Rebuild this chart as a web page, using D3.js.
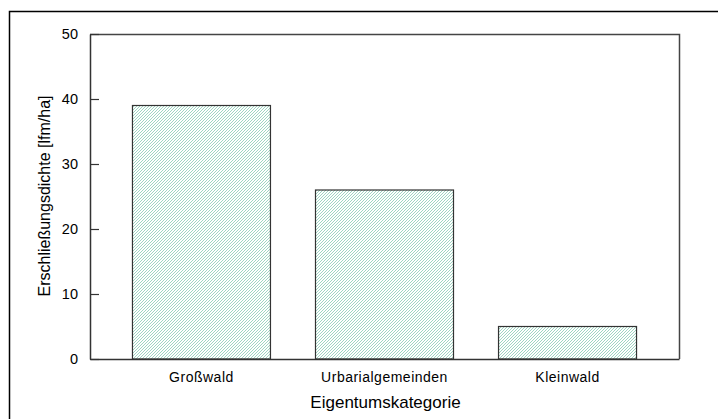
<!DOCTYPE html>
<html><head><meta charset="utf-8">
<script src="https://cdn.jsdelivr.net/npm/d3@7"></script>
<style>body{margin:0;background:#fff}svg{display:block}</style>
</head><body>
<script>
const categories = ["Großwald", "Urbarialgemeinden", "Kleinwald"];
const values = [39, 26, 5];
const yTicks = [0, 10, 20, 30, 40, 50];
const xTitle = "Eigentumskategorie";
const yTitle = "Erschließungsdichte [lfm/ha]";

const W = 718, H = 419;
const svg = d3.select("body").append("svg").attr("width", W).attr("height", H);
const font = "Arial, 'Liberation Sans', sans-serif";

const defs = svg.append("defs");
const pat = defs.append("pattern").attr("id", "hatch").attr("patternUnits", "userSpaceOnUse")
  .attr("width", 3).attr("height", 3);
pat.append("rect").attr("width", 3).attr("height", 3).attr("fill", "#ffffff");
pat.append("path").attr("d", "M-1,1 l2,-2 M0,3 l3,-3 M2,4 l2,-2")
  .attr("stroke", "#9ed6c3").attr("stroke-width", 1);

// outer frame
svg.append("rect").attr("x", 9.5).attr("y", 11.5).attr("width", 720).attr("height", 420)
  .attr("fill", "none").attr("stroke", "#000").attr("stroke-width", 1.5);

const L = 90, R = 679, T = 34, B = 359;
const x = d3.scaleBand().domain(categories).range([L, R]).paddingInner(0.246).paddingOuter(0.232);
const y = d3.scaleLinear().domain([0, 50]).range([B, T]);

// plot frame top & right
svg.append("path").attr("d", `M${L},${T}.5 H${R}.5 V${B}`).attr("fill", "none")
  .attr("stroke", "#444").attr("stroke-width", 1.5);

// bars
svg.append("g").selectAll("rect").data(categories).join("rect")
  .attr("x", d => x(d)).attr("width", x.bandwidth())
  .attr("y", (d, i) => y(values[i])).attr("height", (d, i) => y(0) - y(values[i]))
  .attr("fill", "url(#hatch)").attr("stroke", "#333").attr("stroke-width", 1.2);

// y axis
const ya = svg.append("g").attr("transform", `translate(${L},0)`)
  .call(d3.axisLeft(y).tickValues(yTicks).tickSizeInner(-9).tickSizeOuter(0).tickPadding(12));
ya.select(".domain").attr("stroke", "#333").attr("stroke-width", 1.5);
ya.selectAll(".tick line").attr("stroke", "#333").attr("stroke-width", 1.2);
ya.selectAll("text").attr("font-family", font).attr("font-size", 14.5).attr("fill", "#000");

// x axis
const xa = svg.append("g").attr("transform", `translate(0,${B})`)
  .call(d3.axisBottom(x).tickSize(0).tickPadding(13));
xa.select(".domain").attr("stroke", "#333").attr("stroke-width", 1.5);
xa.selectAll("text").attr("font-family", font).attr("font-size", 14).attr("fill", "#000")
  .attr("letter-spacing", 0.5);

svg.append("text").attr("x", (L + R) / 2 + 1).attr("y", 408).attr("text-anchor", "middle")
  .attr("font-family", font).attr("font-size", 17).text(xTitle);
svg.append("text").attr("transform", `translate(50,196) rotate(-90)`)
  .attr("text-anchor", "middle").attr("font-family", font).attr("font-size", 16).text(yTitle);
</script>
</body></html>
